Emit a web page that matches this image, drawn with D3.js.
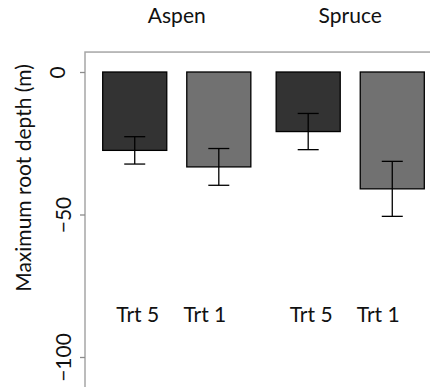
<!DOCTYPE html>
<html>
<head>
<meta charset="utf-8">
<script src="https://cdn.jsdelivr.net/npm/d3@7"></script>
<style>
  body { margin: 0; background: #fff; }
  text { font-family: Lato, "Open Sans", sans-serif; fill: #111; }
</style>
</head>
<body>
<div id="chart"></div>
<script>
"use strict";

// data
var species = ["Aspen", "Spruce"];
var treatments = ["Trt 5", "Trt 1"];
var aspenDepth = [-27.5, -33.3];
var spruceDepth = [-20.9, -41.0];
var aspenSE = [4.8, 6.45];
var spruceSE = [6.35, 9.65];
var yTicks = [0, -50, -100];

var width = 430,
    height = 387;

var rows = [];
species.forEach(function(s, i) {
  var means = i === 0 ? aspenDepth : spruceDepth;
  var ses = i === 0 ? aspenSE : spruceSE;
  treatments.forEach(function(t, j) {
    rows.push({ species: s, trt: t, mean: means[j], se: ses[j] });
  });
});

var svg = d3.select("#chart").append("svg")
    .attr("width", width)
    .attr("height", height);

// y scale : 0 near top, -100 near bottom
var y = d3.scaleLinear()
    .domain([0, -100])
    .range([72, 357]);

// outer band for species, inner for treatment
var x0 = d3.scaleBand()
    .domain(species)
    .range([102.7, 424.3])
    .paddingInner(0.146);

var x1 = d3.scaleBand()
    .domain(treatments)
    .range([0, x0.bandwidth()])
    .paddingInner(0.238);

var fill = d3.scaleOrdinal().domain(treatments).range(["#333333", "#717171"]);

// plot box (only top + left show, rest runs off the page)
svg.append("rect")
    .attr("x", 85)
    .attr("y", y(7))
    .attr("width", 500)
    .attr("height", 500)
    .attr("fill", "none")
    .attr("stroke", "#a6a6a6")
    .attr("stroke-width", 1.5);

// y axis
var yAxis = d3.axisLeft(y)
    .tickValues(yTicks)
    .tickSize(5)
    .tickFormat(d3.format("d"));

var gy = svg.append("g")
    .attr("transform", "translate(85,0)")
    .call(yAxis);
gy.select(".domain").remove();
gy.selectAll(".tick line").attr("stroke", "#8c8c8c").attr("stroke-width", 1.3);
gy.selectAll(".tick text")
    .attr("x", 0).attr("y", 0).attr("dy", null)
    .attr("text-anchor", "middle")
    .style("font-size", "21px")
    .attr("fill", "#111")
    .attr("transform", function(d) { return "translate(" + (d === 0 ? -20 : -14) + ",0) rotate(-90)"; });

// bars
var bars = svg.append("g").selectAll("g")
    .data(rows)
    .join("g")
    .attr("transform", function(d) { return "translate(" + (x0(d.species) + x1(d.trt)) + ",0)"; });

bars.append("rect")
    .attr("x", 0)
    .attr("y", y(0))
    .attr("width", x1.bandwidth())
    .attr("height", function(d) { return y(d.mean) - y(0); })
    .attr("fill", function(d) { return fill(d.trt); })
    .attr("stroke", "#000")
    .attr("stroke-width", 1.3);

// error bars
var cx = x1.bandwidth() / 2, cap = 10.5;
bars.append("line")
    .attr("x1", cx).attr("x2", cx)
    .attr("y1", function(d) { return y(d.mean + d.se); })
    .attr("y2", function(d) { return y(d.mean - d.se); })
    .attr("stroke", "#000").attr("stroke-width", 1.3);
bars.selectAll(".cap")
    .data(function(d) { return [d.mean + d.se, d.mean - d.se]; })
    .join("line")
    .attr("class", "cap")
    .attr("x1", cx - cap).attr("x2", cx + cap)
    .attr("y1", function(v) { return y(v); })
    .attr("y2", function(v) { return y(v); })
    .attr("stroke", "#000").attr("stroke-width", 1.3);

// treatment labels (placed a bit off-centre like the original)
var labelShift = { "Trt 5": 3, "Trt 1": -14 };
bars.append("text")
    .attr("x", function(d) { return cx + labelShift[d.trt]; })
    .attr("y", 322)
    .attr("text-anchor", "middle")
    .style("font-size", "21px")
    .text(function(d) { return d.trt; });

// species titles
svg.append("g").selectAll("text")
    .data(species)
    .join("text")
    .attr("x", function(d) { return x0(d) + x0.bandwidth() / 2; })
    .attr("y", 23)
    .attr("text-anchor", "middle")
    .style("font-size", "21px")
    .text(function(d) { return d; });

// y axis title
svg.append("text")
    .attr("transform", "translate(31,178) rotate(-90)")
    .attr("text-anchor", "middle")
    .style("font-size", "21px")
    .text("Maximum root depth (m)");
</script>
</body>
</html>
